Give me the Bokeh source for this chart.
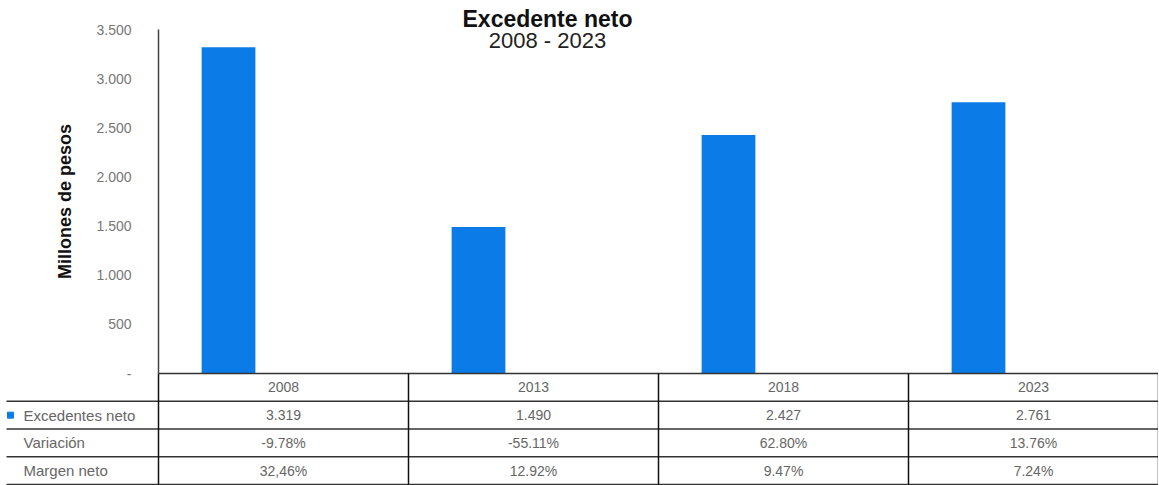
from bokeh.plotting import figure
from bokeh.models import Range1d, LinearAxis, FixedTicker
from bokeh.core.properties import value
from bokeh.embed import file_html
from bokeh.resources import INLINE

# ---- data ----
years = ["2008", "2013", "2018", "2023"]
excedentes = [3319, 1490, 2427, 2761]
excedentes_txt = ["3.319", "1.490", "2.427", "2.761"]
variacion_txt = ["-9.78%", "-55.11%", "62.80%", "13.76%"]
margen_txt = ["32,46%", "12.92%", "9.47%", "7.24%"]
row_labels = ["Excedentes neto", "Variación", "Margen neto"]
y_ticks = [0, 500, 1000, 1500, 2000, 2500, 3000, 3500]
y_tick_labels = ["-", "500", "1.000", "1.500", "2.000", "2.500", "3.000", "3.500"]

title_main = "Excedente neto"
title_sub = "2008 - 2023"
y_title = "Millones de pesos"

# ---- layout constants ----
W, H = 1158, 485
BOT = 1                    # px below table
ROW = 27.75                # px per table row
PX_PER_UNIT = 344 / 3500   # px per million pesos
LEFT_COL = 158 / 250       # width of label column in column units
FONT = "Liberation Sans"
BAR_COLOR = "#0B7CE7"
TXT = "#666666"
LINE = "#333333"

n = len(years)
zero_px = 4 * ROW + BOT
ymin = -zero_px / PX_PER_UNIT
ymax = (H - zero_px) / PX_PER_UNIT

p = figure(width=W, height=H, output_backend="svg", toolbar_location=None,
           x_range=Range1d(-LEFT_COL, n), y_range=Range1d(ymin, ymax),
           x_axis_location=None, y_axis_location=None,
           min_border=0, min_border_left=0, min_border_right=0,
           min_border_top=0, min_border_bottom=0)
p.outline_line_color = None
p.grid.visible = False
p.background_fill_color = "white"
p.border_fill_color = "white"
p.extra_y_ranges = {"tbl": Range1d(-BOT / ROW, (H - BOT) / ROW)}

# y axis inside frame at x = 0
ax = LinearAxis(fixed_location=0, bounds=(0, 3500),
                ticker=FixedTicker(ticks=y_ticks),
                major_label_overrides={t: l for t, l in zip(y_ticks, y_tick_labels)})
ax.major_tick_line_color = None
ax.minor_tick_line_color = None
ax.axis_line_color = "#444444"
ax.axis_line_width = 1.5
ax.major_label_standoff = 21
ax.major_label_text_font = FONT
ax.major_label_text_font_size = "14px"
ax.major_label_text_color = "#777777"
ax.axis_label = y_title
ax.axis_label_text_font = FONT
ax.axis_label_text_font_size = "18px"
ax.axis_label_text_font_style = "bold"
ax.axis_label_text_color = "#111111"
ax.axis_label_standoff = 18
p.add_layout(ax, "left")

# bars
bar_x = [i + 0.28 for i in range(n)]
p.vbar(x=bar_x, top=excedentes, bottom=0, width=0.215, color=BAR_COLOR, line_color=None)

# title
tx = (547 - 158) / 250
p.text(x=[tx], y=[(373 - 18) / PX_PER_UNIT], text=[title_main], text_align="center",
       text_baseline="middle", text_font=value(FONT), text_font_size="23px",
       text_font_style="bold", text_color="#111111")
p.text(x=[tx], y=[(373 - 40) / PX_PER_UNIT], text=[title_sub], text_align="center",
       text_baseline="middle", text_font=value(FONT), text_font_size="22px",
       text_color="#222222")

# table lines
left_edge = -LEFT_COL + 6 / 250
hx0 = [0] + [left_edge] * 4
hy = [4, 3, 2, 1, 0]
p.segment(x0=hx0, y0=hy, x1=[n] * 5, y1=hy, y_range_name="tbl",
          line_color=LINE, line_width=1.5)
vx = list(range(n + 1))
p.segment(x0=vx, y0=[0] * len(vx), x1=vx, y1=[4] * len(vx), y_range_name="tbl",
          line_color="#111111", line_width=1.5)

# table texts
cx = [i + 0.5 for i in range(n)]
for rowy, vals in [(3.5, years), (2.5, excedentes_txt), (1.5, variacion_txt), (0.5, margen_txt)]:
    p.text(x=cx, y=[rowy] * n, text=vals, y_range_name="tbl", text_align="center",
           text_baseline="middle", text_font=value(FONT), text_font_size="14px",
           text_color=TXT)
lx = -LEFT_COL + 23 / 250
p.text(x=[lx] * 3, y=[2.5, 1.5, 0.5], text=row_labels, y_range_name="tbl",
       text_align="left", text_baseline="middle", text_font=value(FONT),
       text_font_size="15px", text_color=TXT)
p.scatter(x=[-LEFT_COL + 10 / 250], y=[2.5], marker="square", size=6,
          color=BAR_COLOR, y_range_name="tbl")

open("out.html", "w").write(file_html(p, INLINE))
